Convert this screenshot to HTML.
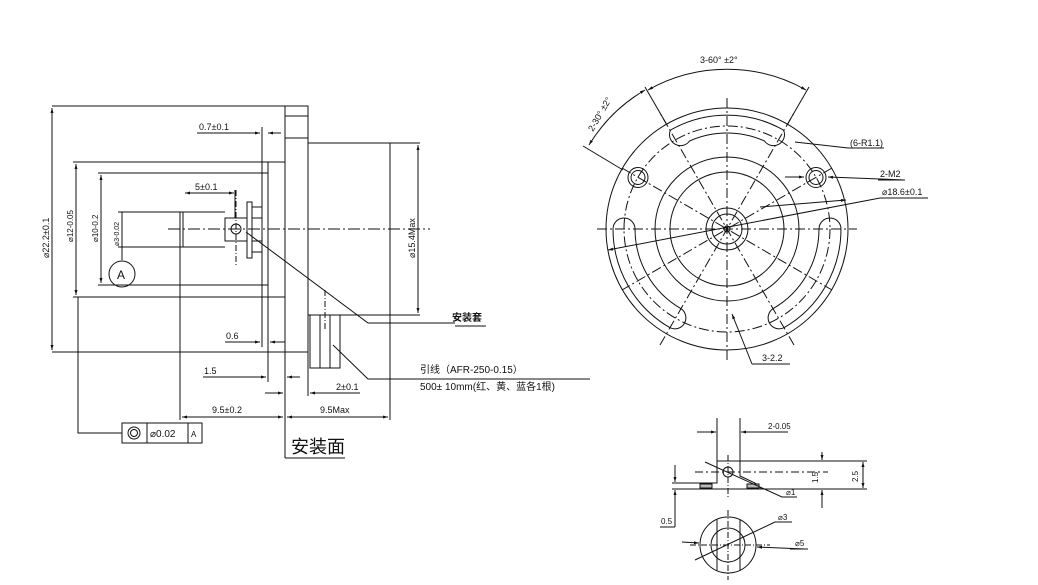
<!DOCTYPE html>
<html><head><meta charset="utf-8"><style>
html,body{margin:0;padding:0;background:#fff}
svg{display:block}
text{font-family:"Liberation Sans","Noto Sans CJK SC",sans-serif;fill:#111}
</style></head><body>
<svg width="1038" height="585" viewBox="0 0 1038 585" xmlns="http://www.w3.org/2000/svg">
<defs>
<marker id="a" viewBox="0 0 10 10" refX="10" refY="5" markerWidth="7" markerHeight="5" orient="auto-start-reverse"><path d="M0,2 L10,5 L0,8 z" fill="#111"/></marker>
</defs>
<g stroke="#111" stroke-width="1" fill="none">
<line x1="52" y1="106" x2="297" y2="106"/>
<line x1="52" y1="352" x2="308" y2="352"/>
<rect x="285" y="106" width="23" height="246"/>
<line x1="285" y1="116" x2="308" y2="116"/>
<line x1="285" y1="138" x2="308" y2="138"/>
<line x1="285" y1="352" x2="285" y2="458"/>
<line x1="285" y1="458" x2="345" y2="458"/>
<rect x="308" y="143" width="82" height="172"/>
<line x1="73" y1="162" x2="285" y2="162"/>
<line x1="73" y1="297" x2="285" y2="297"/>
<line x1="98" y1="173" x2="268" y2="173"/>
<line x1="98" y1="285" x2="268" y2="285"/>
<line x1="262" y1="127" x2="262" y2="347"/>
<line x1="268" y1="162" x2="268" y2="382"/>
<line x1="118" y1="212" x2="225" y2="212"/>
<line x1="118" y1="247" x2="225" y2="247"/>
<line x1="180" y1="212" x2="180" y2="420"/>
<line x1="183" y1="212" x2="183" y2="247"/>
<rect x="225" y="218" width="22" height="23"/>
<polyline points="247,218 247,202 252,202 252,258 247,258 247,241"/>
<rect x="252" y="207" width="10" height="45"/>
<line x1="252" y1="218" x2="262" y2="218"/>
<line x1="252" y1="241" x2="262" y2="241"/>
<circle cx="236" cy="229" r="5"/>
<line x1="236" y1="190" x2="236" y2="265" stroke-dasharray="6,2,1,2"/>
<line x1="168" y1="229" x2="430" y2="229" stroke-dasharray="12,3,2,3"/>
<circle cx="122" cy="274" r="13"/>
<rect x="310" y="315" width="30" height="53"/>
<line x1="320" y1="315" x2="320" y2="368"/>
<line x1="330" y1="315" x2="330" y2="368"/>
<line x1="325" y1="290" x2="325" y2="330" stroke-dasharray="6,2,1,2"/>
<polyline points="246,232 368,323 455,323"/>
<polyline points="333,345 368,379 590,379"/>
<line x1="52" y1="108" x2="52" y2="350" marker-start="url(#a)" marker-end="url(#a)"/>
<line x1="76" y1="164" x2="76" y2="295" marker-start="url(#a)" marker-end="url(#a)"/>
<line x1="101" y1="175" x2="101" y2="283" marker-start="url(#a)" marker-end="url(#a)"/>
<line x1="122" y1="212" x2="122" y2="260"/>
<line x1="418" y1="145" x2="418" y2="313" marker-start="url(#a)" marker-end="url(#a)"/>
<line x1="390" y1="315" x2="420" y2="315"/>
<line x1="390" y1="143" x2="420" y2="143"/>
<line x1="390" y1="315" x2="390" y2="420"/>
<line x1="197" y1="133" x2="260" y2="133" marker-end="url(#a)"/>
<line x1="281" y1="133" x2="268" y2="133" marker-end="url(#a)"/>
<line x1="185" y1="193" x2="234" y2="193" marker-start="url(#a)" marker-end="url(#a)"/>
<line x1="235" y1="190" x2="235" y2="218"/>
<line x1="225" y1="342" x2="260" y2="342" marker-end="url(#a)"/>
<line x1="285" y1="342" x2="270" y2="342" marker-end="url(#a)"/>
<line x1="203" y1="377" x2="266" y2="377" marker-end="url(#a)"/>
<line x1="300" y1="377" x2="287" y2="377" marker-end="url(#a)"/>
<line x1="265" y1="393" x2="283" y2="393" marker-end="url(#a)"/>
<line x1="360" y1="393" x2="310" y2="393" marker-end="url(#a)"/>
<line x1="308" y1="352" x2="308" y2="396"/>
<line x1="182" y1="417" x2="283" y2="417" marker-start="url(#a)" marker-end="url(#a)"/>
<line x1="287" y1="417" x2="388" y2="417" marker-start="url(#a)" marker-end="url(#a)"/>
<rect x="122" y="423" width="80" height="20"/>
<line x1="147" y1="423" x2="147" y2="443"/>
<line x1="188" y1="423" x2="188" y2="443"/>
<circle cx="134" cy="433" r="6"/><circle cx="134" cy="433" r="3.5"/>
<polyline points="78,297 78,433 122,433"/>
<line x1="455" y1="326" x2="486" y2="326"/>
<circle cx="727" cy="229" r="121"/>
<circle cx="727" cy="229" r="103" stroke-dasharray="10,3,2,3"/>
<circle cx="727" cy="229" r="72"/>
<circle cx="727" cy="229" r="57"/>
<circle cx="727" cy="229" r="21"/>
<circle cx="727" cy="229" r="15"/>
<circle cx="727" cy="229" r="3"/>
<path d="M670.5,130.1 A114,114 0 0 1 783.5,130.1 A11,11 0 0 1 764.5,141 A92,92 0 0 0 689.5,141 A11,11 0 0 1 670.5,130.1 z"/>
<path d="M613,229 A114,114 0 0 0 670,327.7 A11,11 0 0 0 681,308.7 A92,92 0 0 1 635,229 A11,11 0 0 0 613,229 z"/>
<path d="M841,229 A114,114 0 0 1 784,327.7 A11,11 0 0 1 773,308.7 A92,92 0 0 0 819,229 A11,11 0 0 1 841,229 z"/>
<circle cx="638" cy="177.5" r="10"/><circle cx="638" cy="177.5" r="7"/>
<circle cx="816" cy="177.5" r="10"/><circle cx="816" cy="177.5" r="7"/>
<g stroke-dasharray="10,3,2,3">
<line x1="597" y1="229" x2="857" y2="229"/>
<line x1="727" y1="98" x2="727" y2="360"/>
<line x1="660" y1="345" x2="794" y2="113"/>
<line x1="794" y1="345" x2="660" y2="113"/>
<line x1="622" y1="168" x2="832" y2="290"/>
<line x1="832" y1="168" x2="622" y2="290"/>
</g>
<line x1="645" y1="87" x2="667" y2="125"/>
<line x1="809" y1="87" x2="787" y2="125"/>
<line x1="583" y1="146" x2="623" y2="170"/>
<path d="M648,90 A161,161 0 0 1 806,90" marker-start="url(#a)" marker-end="url(#a)"/>
<path d="M589,145 A161,161 0 0 1 645,90" marker-start="url(#a)" marker-end="url(#a)"/>
<polyline points="795,142 848,148"/>
<line x1="848" y1="148" x2="884" y2="148"/>
<line x1="785" y1="177" x2="804" y2="177" marker-end="url(#a)"/>
<line x1="905" y1="180" x2="828" y2="177" marker-end="url(#a)"/>
<line x1="878" y1="180" x2="905" y2="180"/>
<line x1="880" y1="198" x2="928" y2="198"/>
<line x1="880" y1="198" x2="608" y2="250" marker-end="url(#a)"/>
<line x1="760" y1="207" x2="846" y2="200" marker-end="url(#a)"/>
<line x1="752" y1="364" x2="732" y2="314" marker-end="url(#a)"/>
<line x1="752" y1="364" x2="790" y2="364"/>
<line x1="717" y1="461" x2="867" y2="461"/>
<line x1="672" y1="489" x2="867" y2="489"/>
<polyline points="672,483 717,483 717,461"/>
<polyline points="740,461 740,476 755,483 762,489"/>
<line x1="695" y1="472" x2="828" y2="472" stroke-dasharray="8,3,2,3"/>
<line x1="728" y1="455" x2="728" y2="497" stroke-dasharray="6,2,1,2"/>
<circle cx="728" cy="472" r="5"/>
<rect x="700" y="484" width="12" height="4" fill="#bbb"/>
<rect x="747" y="484" width="12" height="4" fill="#bbb"/>
<line x1="717" y1="418" x2="717" y2="461"/>
<line x1="740" y1="418" x2="740" y2="461"/>
<line x1="697" y1="432" x2="716" y2="432" marker-end="url(#a)"/>
<line x1="788" y1="432" x2="741" y2="432" marker-end="url(#a)"/>
<line x1="822" y1="452" x2="822" y2="460" marker-end="url(#a)"/>
<line x1="822" y1="508" x2="822" y2="490" marker-end="url(#a)"/>
<line x1="863" y1="462" x2="863" y2="488" marker-start="url(#a)" marker-end="url(#a)"/>
<line x1="675" y1="465" x2="675" y2="482" marker-end="url(#a)"/>
<line x1="675" y1="527" x2="675" y2="490" marker-end="url(#a)"/>
<line x1="660" y1="527" x2="675" y2="527"/>
<polyline points="705,462 782,497 797,497"/>
<circle cx="728" cy="545" r="28"/>
<circle cx="728" cy="545" r="17"/>
<line x1="717" y1="519" x2="717" y2="571"/>
<line x1="740" y1="519" x2="740" y2="571"/>
<line x1="728" y1="510" x2="728" y2="580" stroke-dasharray="6,2,1,2"/>
<line x1="690" y1="545" x2="770" y2="545" stroke-dasharray="6,2,1,2"/>
<polyline points="695,560 775,522 792,522"/>
<line x1="682" y1="542" x2="699" y2="543" marker-end="url(#a)"/>
<line x1="805" y1="549" x2="757" y2="547" marker-end="url(#a)"/>
<line x1="790" y1="549" x2="808" y2="549"/>
</g>
<g font-size="9">
<text x="199" y="130">0.7±0.1</text>
<text x="195" y="190">5±0.1</text>
<text x="226" y="339">0.6</text>
<text x="204" y="374">1.5</text>
<text x="336" y="390">2±0.1</text>
<text x="212" y="413">9.5±0.2</text>
<text x="320" y="413">9.5Max</text>
<text transform="translate(49,258) rotate(-90)">⌀22.2±0.1</text>
<text transform="translate(73,242) rotate(-90)" font-size="8">⌀12-0.05</text>
<text transform="translate(98,242) rotate(-90)" font-size="8">⌀10-0.2</text>
<text transform="translate(119,246) rotate(-90)" font-size="7">⌀3-0.02</text>
<text transform="translate(415,258) rotate(-90)">⌀15.4Max</text>
<text x="117" y="279" font-size="12">A</text>
<text x="150" y="437" font-size="10">⌀0.02</text>
<text x="191" y="437" font-size="8">A</text>
<text x="452" y="321" font-weight="bold" font-size="10">安装套</text>
<text x="420" y="373" font-size="10">引线（AFR-250-0.15）</text>
<text x="420" y="390" font-size="10">500± 10mm(红、黄、蓝各1根)</text>
<text x="291" y="453" font-size="18">安装面</text>
<text x="700" y="63">3-60° ±2°</text>
<text transform="translate(593,132) rotate(-60)">2-30° ±2°</text>
<text x="850" y="146">(6-R1.1)</text>
<text x="880" y="177">2-M2</text>
<text x="882" y="195">⌀18.6±0.1</text>
<text x="762" y="361">3-2.2</text>
<text x="768" y="429" font-size="8">2-0.05</text>
<text transform="translate(818,483) rotate(-90)" font-size="8">1.5</text>
<text transform="translate(858,482) rotate(-90)" font-size="8">2.5</text>
<text x="661" y="524" font-size="8">0.5</text>
<text x="786" y="495" font-size="8">⌀1</text>
<text x="778" y="520" font-size="8">⌀3</text>
<text x="795" y="546" font-size="8">⌀5</text>
</g>
</svg>
</body></html>
